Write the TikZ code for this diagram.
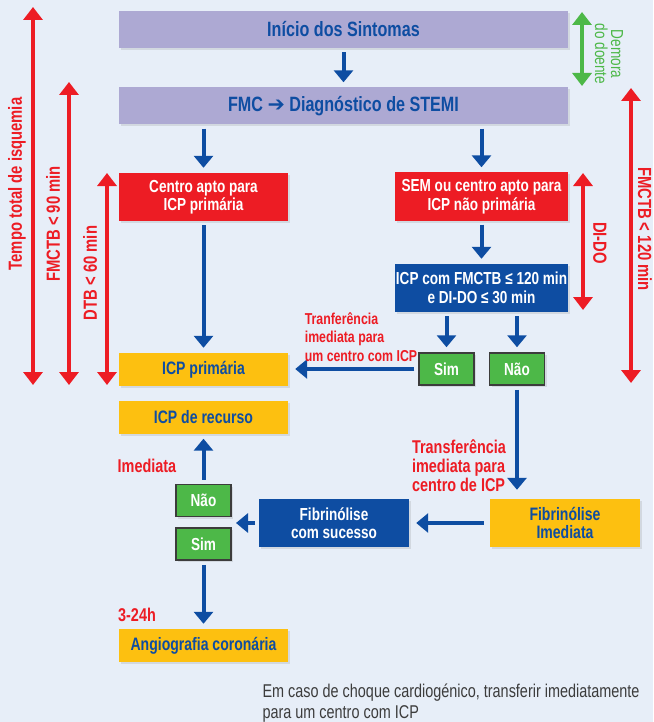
\documentclass[tikz,border=0pt]{standalone}
\usepackage{fontspec}
\setmainfont{Liberation Sans}[FakeStretch=0.78]
\newfontfamily\simbolos{DejaVu Sans}
\usepackage{tikz}
\usetikzlibrary{arrows.meta,shadows}
\definecolor{fundo}{HTML}{E7EEF8}
\definecolor{lilas}{HTML}{ADA9D3}
\definecolor{vermelho}{HTML}{ED1C24}
\definecolor{azul}{HTML}{0E4DA2}
\definecolor{amarelo}{HTML}{FDC010}
\definecolor{verde}{HTML}{4DB848}
\definecolor{texto}{HTML}{3C3C3C}
\tikzset{auto,
	caixa/.style={inner sep=0pt, align=center, font=\bfseries\fontsize{17.4}{18.5}\selectfont, drop shadow={shadow xshift=2pt, shadow yshift=-2pt, opacity=0.2}},
	topo/.style={caixa, fill=lilas, text=azul, minimum width=449pt, minimum height=37pt, font=\bfseries\fontsize{20.7}{22}\selectfont},
	verm/.style={caixa, fill=vermelho, text=white, minimum height=48pt},
	azulcx/.style={caixa, fill=azul, text=white, minimum height=48pt},
	amar/.style={caixa, fill=amarelo, text=azul, minimum width=169pt, minimum height=33pt, font=\bfseries\fontsize{18}{18.5}\selectfont},
	simnao/.style={caixa, fill=verde, draw=texto, line width=1.5pt, text=white, minimum width=55pt, minimum height=32pt}
}

\begin{document}
\begin{tikzpicture}[x=1pt, y=-1pt,
		seta/.style={azul, line width=4pt, -{Triangle[width=19pt,length=12pt]}, shorten <=4pt, shorten >=5pt},
		dupla/.style={line width=3.5pt, {Triangle[width=19pt,length=13pt]}-{Triangle[width=19pt,length=13pt]}},
		rotulo/.style={vermelho, align=left, font=\bfseries\fontsize{18.5}{19}\selectfont},
		vert/.style={vermelho, font=\bfseries\fontsize{19}{19}\selectfont}]
	\fill[fundo](0,0) rectangle (653,722);
	\useasboundingbox (0,0) rectangle (653,722);
	\node[topo](A) at (343.5,29.5){Início dos Sintomas};
	\node[topo](B) at (343.5,106){FMC {\simbolos ➔} Diagnóstico de STEMI};
	\node[verm, minimum width=169pt](C) at (203.5,197){Centro apto para\\ICP primária};
	\node[verm, minimum width=173pt](D) at (481.5,196.5){SEM ou centro apto para\\ICP não primária};
	\node[azulcx, minimum width=173pt](E) at (481.5,288){ICP com FMCTB ≤ 120 min\\e DI-DO ≤ 30 min};
	\node[simnao](S1) at (446.5,369){Sim};
	\node[simnao](N1) at (517,369){Não};
	\node[amar](P) at (203.5,369.5){ICP primária};
	\node[amar](R) at (203.5,417){ICP de recurso};
	\node[simnao](N2) at (203.5,500.5){Não};
	\node[simnao](S2) at (203.5,544){Sim};
	\node[azulcx, minimum width=150pt](FS) at (334,523){Fibrinólise\\com sucesso};
	\node[amar, minimum width=150pt, minimum height=48pt](FI) at (565,523){Fibrinólise\\Imediata};
	\node[amar](G) at (203.5,645.5){Angiografia coronária};
	\coordinate(M) at (231,523);
	\draw[seta](A) to (B);
	\draw[seta](B.south -| C) to (C);
	\draw[seta](B.south -| D) to (D);
	\draw[seta](D) to (E);
	\draw[seta](E.south -| S1) to (S1);
	\draw[seta](E.south -| N1) to (N1);
	\draw[seta](C) to (P);
	\draw[seta, shorten >=7pt](S1.west) to (S1.west -| P.east);
	\draw[seta, shorten >=9pt](N1) to (N1 |- FI.north);
	\draw[seta, shorten <=6pt, shorten >=7pt](FI.west) to (FI.west -| FS.east);
	\draw[seta](FS) to (M);
	\draw[seta](N2) to (R);
	\draw[seta](S2) to (G);
	\node[rotulo, font=\bfseries\fontsize{15.8}{18.5}\selectfont](T1) at (361,337){Tranferência\\imediata para\\um centro com ICP};
	\node[rotulo](T2) at (459,466){Transferência\\imediata para\\centro de ICP};
	\node[rotulo](I) at (147,466){Imediata};
	\node[rotulo](H) at (137,615){3-24h};
	\coordinate(t1) at (33,7);
	\coordinate(t2) at (33,385);
	\coordinate(f1) at (69,82);
	\coordinate(f2) at (69,385);
	\coordinate(d1) at (107,173);
	\coordinate(d2) at (107,385);
	\coordinate(g1) at (582,12);
	\coordinate(g2) at (582,86);
	\coordinate(o1) at (583,173);
	\coordinate(o2) at (583,310);
	\coordinate(m1) at (631,88);
	\coordinate(m2) at (631,383);
	\draw[dupla, vermelho](t1) to (t2);
	\draw[dupla, vermelho](f1) to (f2);
	\draw[dupla, vermelho](d1) to (d2);
	\draw[dupla, verde](g1) to (g2);
	\draw[dupla, vermelho](o1) to (o2);
	\draw[dupla, vermelho](m1) to (m2);
	\node[vert, rotate=90](L1) at (17,184){Tempo total de isquemia};
	\node[vert, rotate=90](L2) at (53,224){FMCTB < 90 min};
	\node[vert, rotate=90](L3) at (90,273){DTB < 60 min};
	\node[vert, rotate=-90](L4) at (600,243){DI-DO};
	\node[vert, rotate=-90](L5) at (645,229){FMCTB < 120 min};
	\node[verde, rotate=-90, align=center, font=\fontsize{17.4}{16}\selectfont](L6) at (609,54){Demora\\do doente};
	\node[texto, align=left, anchor=west, font=\fontsize{18.5}{21}\selectfont](NT) at (259,703){Em caso de choque cardiogénico, transferir imediatamente\\para um centro com ICP};
\end{tikzpicture}
\end{document}
